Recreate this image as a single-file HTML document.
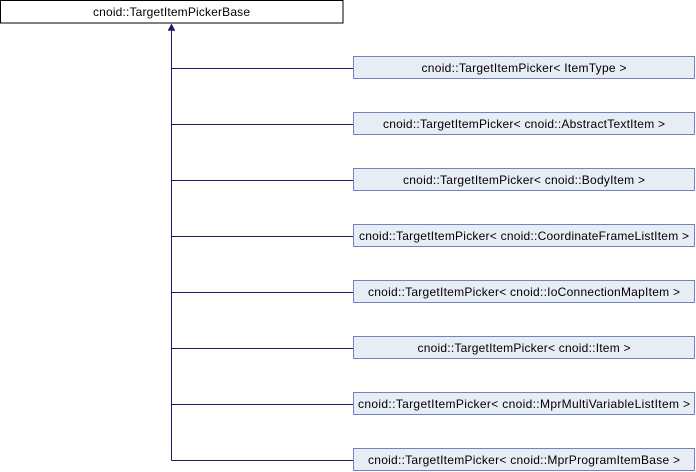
<!DOCTYPE html>
<html><head><meta charset="utf-8"><style>
html,body{margin:0;padding:0;background:#fff;}
svg{display:block;}
text{font-family:"Liberation Sans",Arial,sans-serif;font-size:12px;fill:#000;}
</style></head><body>
<svg width="696" height="472" viewBox="0 0 696 472" xmlns="http://www.w3.org/2000/svg">
<rect x="0.5" y="0.5" width="342.5" height="22.5" fill="#fff" stroke="#000" stroke-width="1"/>
<text x="171.5" y="16" text-anchor="middle" textLength="157" lengthAdjust="spacing">cnoid::TargetItemPickerBase</text>
<g stroke="#191970" stroke-width="1" fill="none">
<line x1="171.5" y1="29" x2="171.5" y2="460.5"/>
<line x1="171.5" y1="68.5" x2="353" y2="68.5"/>
<line x1="171.5" y1="124.5" x2="353" y2="124.5"/>
<line x1="171.5" y1="180.5" x2="353" y2="180.5"/>
<line x1="171.5" y1="236.5" x2="353" y2="236.5"/>
<line x1="171.5" y1="292.5" x2="353" y2="292.5"/>
<line x1="171.5" y1="348.5" x2="353" y2="348.5"/>
<line x1="171.5" y1="404.5" x2="353" y2="404.5"/>
<line x1="171.5" y1="460.5" x2="353" y2="460.5"/>
</g>
<polygon points="171.5,24 168,30.5 175,30.5" fill="#191970" stroke="#191970" stroke-width="0.5"/>
<g fill="#e8ecf5" stroke="#7083c0" stroke-width="1">
<rect x="353.5" y="56.5" width="341" height="22"/>
<rect x="353.5" y="112.5" width="341" height="22"/>
<rect x="353.5" y="168.5" width="341" height="22"/>
<rect x="353.5" y="224.5" width="341" height="22"/>
<rect x="353.5" y="280.5" width="341" height="22"/>
<rect x="353.5" y="336.5" width="341" height="22"/>
<rect x="353.5" y="392.5" width="341" height="22"/>
<rect x="353.5" y="448.5" width="341" height="22"/>
</g>
<g text-anchor="middle">
<text x="524" y="72" textLength="205" lengthAdjust="spacing">cnoid::TargetItemPicker&lt; ItemType &gt;</text>
<text x="524" y="128" textLength="282" lengthAdjust="spacing">cnoid::TargetItemPicker&lt; cnoid::AbstractTextItem &gt;</text>
<text x="524" y="184" textLength="242" lengthAdjust="spacing">cnoid::TargetItemPicker&lt; cnoid::BodyItem &gt;</text>
<text x="524" y="240" textLength="330" lengthAdjust="spacing">cnoid::TargetItemPicker&lt; cnoid::CoordinateFrameListItem &gt;</text>
<text x="524" y="296" textLength="312" lengthAdjust="spacing">cnoid::TargetItemPicker&lt; cnoid::IoConnectionMapItem &gt;</text>
<text x="524" y="352" textLength="213" lengthAdjust="spacing">cnoid::TargetItemPicker&lt; cnoid::Item &gt;</text>
<text x="524" y="408" textLength="332" lengthAdjust="spacing">cnoid::TargetItemPicker&lt; cnoid::MprMultiVariableListItem &gt;</text>
<text x="524" y="464" textLength="312" lengthAdjust="spacing">cnoid::TargetItemPicker&lt; cnoid::MprProgramItemBase &gt;</text>
</g>
</svg>
</body></html>
